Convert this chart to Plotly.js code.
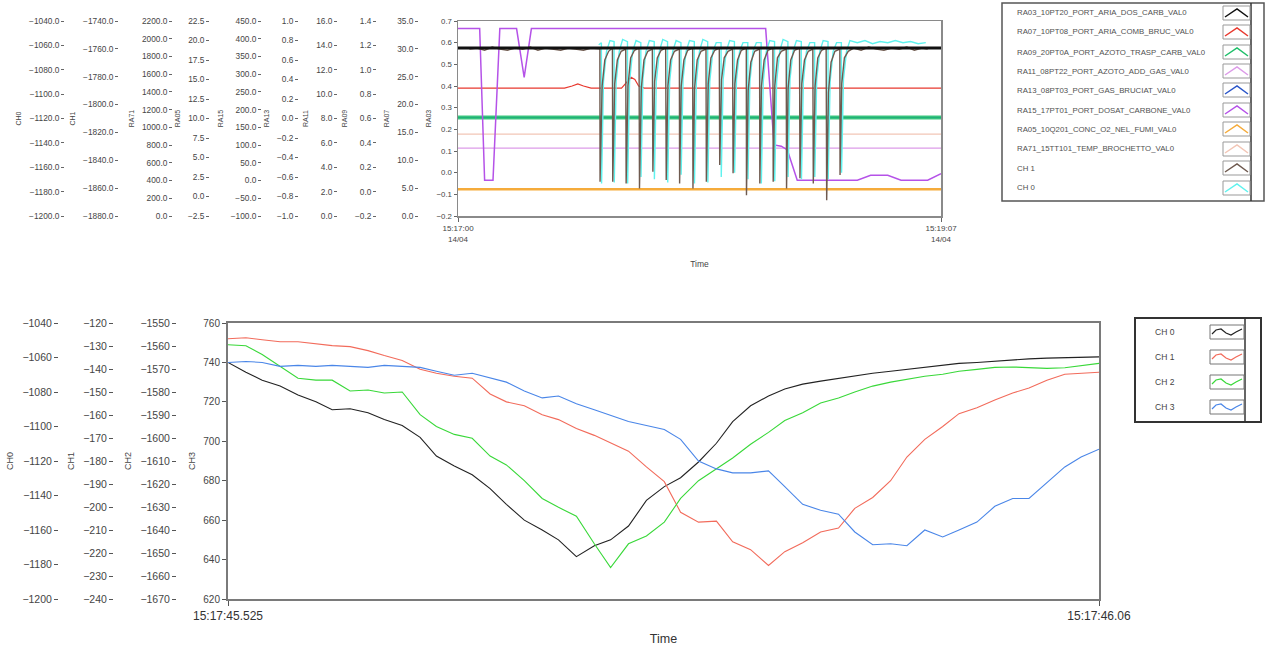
<!DOCTYPE html>
<html><head><meta charset="utf-8">
<script src="https://cdn.plot.ly/plotly-3.0.1.min.js"></script>
<style>html,body{margin:0;padding:0;background:#fff}#chart{width:1266px;height:651px}</style>
</head><body><div id="chart"></div>
<script>
// ---------------- TOP CHART DATA (x: seconds after 15:17:00) ----------------
const topSeriesNames = [
  'RA03_10PT20_PORT_ARIA_DOS_CARB_VAL0',
  'RA07_10PT08_PORT_ARIA_COMB_BRUC_VAL0',
  'RA09_20PT0A_PORT_AZOTO_TRASP_CARB_VAL0',
  'RA11_08PT22_PORT_AZOTO_ADD_GAS_VAL0',
  'RA13_08PT03_PORT_GAS_BRUCIAT_VAL0',
  'RA15_17PT01_PORT_DOSAT_CARBONE_VAL0',
  'RA05_10Q201_CONC_O2_NEL_FUMI_VAL0',
  'RA71_15TT101_TEMP_BROCHETTO_VAL0',
  'CH 1',
  'CH 0'
];
const topTickText = ['15:17:00<br>14/04', '15:19:07<br>14/04'];
const topTickVals = [0, 127];

const ra03T = [0, 127];
const ra03V = [0.575, 0.575];
const ra07T = [0, 28, 30, 31.5, 33, 35, 43, 44.5, 45.5, 46.5, 47.5, 49, 127];
const ra07V = [0.39, 0.39, 0.40, 0.41, 0.40, 0.39, 0.39, 0.42, 0.44, 0.43, 0.40, 0.39, 0.39];
const ra09T = [0, 127];
const ra09V = [0.255, 0.255];
const ra11T = [0, 127];
const ra11V = [0.113, 0.113];
const ra13T = [0, 127];
const ra13V = [0.255, 0.255];
const ra15T = [0, 5.7, 7.0, 9.2, 11.0, 15.4, 17.4, 19.3, 80.9, 83.1, 85.0, 86.6, 89.2, 105.0, 108.5, 113.0, 116.5, 123.5, 127];
const ra15V = [0.665, 0.665, -0.035, -0.035, 0.665, 0.665, 0.44, 0.665, 0.665, 0.128, 0.122, 0.105, -0.035, -0.035, -0.012, -0.012, -0.035, -0.035, -0.005];
const ra05T = [0, 127];
const ra05V = [-0.076, -0.076];
const ra71T = [0, 127];
const ra71V = [0.178, 0.178];

const ch1T = [3, 5, 7, 9, 11, 13, 15, 17, 19, 21, 23, 25, 27, 29, 31, 33, 35, 37.3,
  37.35, 37.9, 38.6, 39.6, 40.6,
  40.69, 41.2, 41.9, 42.9, 44.1,
  44.21, 44.7, 45.4, 46.4, 47.6,
  47.72, 48.2, 48.9, 49.9, 51.1,
  51.24, 51.7, 52.4, 53.4, 54.6,
  54.75, 55.2, 55.9, 56.9, 58.2,
  58.27, 58.7, 59.4, 60.4, 61.7,
  61.78, 62.2, 62.9, 63.9, 65.2,
  65.30, 65.8, 66.5, 67.5, 68.7,
  68.82, 69.3, 70.0, 71.0, 72.2,
  72.33, 72.8, 73.5, 74.5, 75.8,
  75.85, 76.3, 77.0, 78.0, 79.3,
  79.36, 79.8, 80.5, 81.5, 82.8,
  82.88, 83.3, 84.0, 85.0, 86.3,
  86.39, 86.8, 87.5, 88.5, 89.8,
  89.91, 90.4, 91.1, 92.1, 93.3,
  93.42, 93.9, 94.6, 95.6, 96.8,
  96.94, 97.4, 98.1, 99.1, 100.4,
  100.45, 100.9, 101.6, 102.6, 104, 106, 108, 110, 112, 114, 116, 118, 120, 122, 123.5];
const ch1V = [0.57, 0.575, 0.565, 0.58, 0.57, 0.565, 0.575, 0.57, 0.58, 0.565, 0.575, 0.57, 0.565, 0.575, 0.57, 0.565, 0.575, 0.572,
  -0.042, 0.40, 0.52, 0.56, 0.575,
  -0.042, 0.41, 0.52, 0.56, 0.57,
  -0.05, 0.40, 0.53, 0.565, 0.575,
  -0.073, 0.39, 0.52, 0.56, 0.57,
  0.004, 0.42, 0.53, 0.565, 0.575,
  -0.034, 0.40, 0.52, 0.56, 0.57,
  -0.05, 0.40, 0.52, 0.565, 0.575,
  -0.073, 0.39, 0.52, 0.56, 0.57,
  -0.042, 0.41, 0.53, 0.565, 0.575,
  0.035, 0.43, 0.53, 0.56, 0.57,
  -0.003, 0.41, 0.52, 0.565, 0.575,
  -0.104, 0.38, 0.51, 0.56, 0.57,
  -0.05, 0.40, 0.52, 0.565, 0.575,
  -0.042, 0.40, 0.53, 0.56, 0.57,
  -0.073, 0.39, 0.52, 0.565, 0.575,
  -0.026, 0.41, 0.52, 0.56, 0.57,
  -0.05, 0.40, 0.53, 0.565, 0.575,
  -0.127, 0.37, 0.51, 0.56, 0.57,
  -0.011, 0.41, 0.53, 0.56, 0.575, 0.565, 0.58, 0.57, 0.565, 0.575, 0.57, 0.58, 0.565, 0.575, 0.57];

const ch0T = [37.0,
  37.7, 37.75, 38.25, 39.05, 39.95,
  41.04, 41.09, 41.59, 42.39, 43.29,
  44.56, 44.61, 45.11, 45.91, 46.81,
  48.07, 48.12, 48.62, 49.42, 50.32,
  51.59, 51.64, 52.14, 52.94, 53.84,
  55.1, 55.15, 55.65, 56.45, 57.35,
  58.62, 58.67, 59.17, 59.97, 60.87,
  62.13, 62.18, 62.68, 63.48, 64.38,
  65.65, 65.7, 66.2, 67.0, 67.9,
  69.17, 69.22, 69.72, 70.52, 71.42,
  72.68, 72.73, 73.23, 74.03, 74.93,
  76.2, 76.25, 76.75, 77.55, 78.45,
  79.71, 79.76, 80.26, 81.06, 81.96,
  83.23, 83.28, 83.78, 84.58, 85.48,
  86.74, 86.79, 87.29, 88.09, 88.99,
  90.26, 90.31, 90.81, 91.61, 92.51,
  93.77, 93.82, 94.32, 95.12, 96.02,
  97.29, 97.34, 97.84, 98.64, 99.54,
  100.8, 100.85, 101.35, 102.15, 103.05,
  105, 107, 109, 111, 113, 115, 117, 119, 121, 123];
const ch0V = [0.59,
  0.60, -0.05, 0.42, 0.56, 0.61,
  0.605, -0.045, 0.42, 0.56, 0.615,
  0.605, -0.05, 0.42, 0.56, 0.61,
  0.60, -0.02, 0.43, 0.56, 0.61,
  0.605, -0.03, 0.42, 0.56, 0.615,
  0.605, -0.045, 0.42, 0.56, 0.61,
  0.60, -0.01, 0.43, 0.56, 0.61,
  0.605, -0.05, 0.42, 0.56, 0.615,
  0.605, -0.045, 0.42, 0.56, 0.60,
  0.60, -0.02, 0.43, 0.56, 0.61,
  0.605, 0.0, 0.43, 0.56, 0.60,
  0.60, -0.03, 0.42, 0.56, 0.60,
  0.60, -0.05, 0.42, 0.56, 0.61,
  0.605, -0.04, 0.42, 0.56, 0.615,
  0.605, -0.02, 0.43, 0.56, 0.61,
  0.605, -0.03, 0.42, 0.56, 0.60,
  0.60, -0.02, 0.43, 0.56, 0.61,
  0.605, -0.03, 0.42, 0.56, 0.60,
  0.60, 0.0, 0.43, 0.56, 0.61,
  0.60, 0.61, 0.595, 0.605, 0.60, 0.61, 0.60, 0.605, 0.595, 0.60];

// ---------------- BOTTOM CHART DATA (x: seconds of 15:17) ----------------
const bottomSeriesNames = ['CH 0', 'CH 1', 'CH 2', 'CH 3'];
const bottomTickVals = [45.525, 46.06];
const bottomTickText = ['15:17:45.525', '15:17:46.06'];
const bTime = [45.525, 45.536, 45.546, 45.557, 45.568, 45.579, 45.589, 45.600, 45.611, 45.621,
  45.632, 45.643, 45.653, 45.664, 45.675, 45.686, 45.696, 45.707, 45.718, 45.728,
  45.739, 45.750, 45.760, 45.771, 45.782, 45.793, 45.803, 45.814, 45.825, 45.835,
  45.846, 45.857, 45.867, 45.878, 45.889, 45.900, 45.910, 45.921, 45.932, 45.942,
  45.953, 45.964, 45.974, 45.985, 45.996, 46.007, 46.017, 46.028, 46.039, 46.049, 46.060];
const bCh0 = [740, 735, 731, 728, 723.5, 720, 716, 716.5, 714.5, 711,
  708, 702, 692.5, 687.5, 683, 676, 668, 660, 655, 650,
  641.5, 647, 650, 657, 670, 677, 681.5, 689.5, 699, 710,
  718, 723, 726.5, 729, 730.5, 732, 733, 734.5, 735.5, 736.5,
  737.5, 738.5, 739.5, 740, 740.7, 741.2, 741.8, 742.2, 742.5, 742.7, 742.8];
const bCh1 = [752, 752.5, 751.5, 750.5, 750.5, 749.5, 748.5, 748, 746, 743.5,
  741, 736.5, 734.5, 733, 732, 724, 720, 718, 713.5, 711,
  706.5, 703, 699, 695, 687, 679.5, 664, 659, 659.5, 649,
  645, 637, 644, 648.5, 654, 656, 666, 671.5, 680, 692,
  701, 707.5, 714, 717, 721, 724.5, 727, 731, 734, 734.6, 735];
const bCh2 = [749, 748.5, 744, 738, 732, 731, 731, 725.5, 726, 724.5,
  725, 713.5, 707.5, 703.5, 701.5, 692.5, 688, 680, 671, 666.5,
  662, 648, 636, 648, 652, 659, 671, 680, 686, 691.5,
  698.5, 704.5, 710.5, 714.5, 719.4, 722, 725, 728, 730, 731.5,
  733, 734, 735.5, 736.5, 737.5, 737.7, 737.3, 737, 737.3, 738.2, 739.5];
const bCh3 = [740, 740.5, 740, 738, 738.5, 738, 738.5, 738, 737.5, 738.5,
  738, 737.5, 735.5, 733.5, 734.5, 732, 730, 725.5, 722, 723,
  719, 716, 713, 710, 708, 706, 701, 690, 686, 684,
  684, 685, 677, 668, 665, 663, 654, 647.5, 648, 647,
  655, 651.5, 655, 659, 667, 671, 671, 679, 687, 692, 696];

// ---------------- STYLE / LAYOUT ----------------
const W = 1266, H = 651;
const fx = x => x / W;
const fy = y => 1 - y / H;
const FONT = 'Liberation Sans, Arial, sans-serif';
const TXT = '#454545';

const topColors = ['#111111', '#e8392f', '#1fbf6a', '#dc9be8', '#2b56c9', '#b552e8', '#f5ab3b', '#f2c6b6', '#6f5a4f', '#5ff2ee'];
const bottomColors = ['#222222', '#f26b5b', '#39d839', '#4a86e8'];

function ln(x, y, color, width, xa, ya) {
  return {x: x, y: y, type: 'scatter', mode: 'lines', line: {color: color, width: width},
    xaxis: xa, yaxis: ya, hoverinfo: 'skip', showlegend: false};
}
function emptyOn(xa, ya) {
  return {x: [], y: [], type: 'scatter', mode: 'lines', xaxis: xa, yaxis: ya, hoverinfo: 'skip', showlegend: false};
}

const traces = [
  ln(ra71T, ra71V, topColors[7], 1.2, 'x', 'y'),
  ln(ra11T, ra11V, topColors[3], 1.2, 'x', 'y'),
  ln(ra05T, ra05V, topColors[6], 2.5, 'x', 'y'),
  ln(ra13T, ra13V, topColors[4], 1.5, 'x', 'y'),
  Object.assign(ln(ra09T, ra09V, topColors[2], 4, 'x', 'y'), {opacity: 0.85}),
  ln(ra07T, ra07V, topColors[1], 1.2, 'x', 'y'),
  ln(ra15T, ra15V, topColors[5], 1.5, 'x', 'y'),
  ln(ch0T, ch0V, topColors[9], 1.4, 'x', 'y'),
  ln(ch1T, ch1V, topColors[8], 1.4, 'x', 'y'),
  ln(ra03T, ra03V, topColors[0], 3, 'x', 'y'),
  ln(bTime, bCh0, bottomColors[0], 1.1, 'x2', 'y11'),
  ln(bTime, bCh1, bottomColors[1], 1.1, 'x2', 'y11'),
  ln(bTime, bCh2, bottomColors[2], 1.1, 'x2', 'y11'),
  ln(bTime, bCh3, bottomColors[3], 1.1, 'x2', 'y11')
];

const layout = {
  width: W, height: H,
  margin: {l: 0, r: 0, t: 0, b: 0},
  paper_bgcolor: '#ffffff', plot_bgcolor: '#ffffff',
  showlegend: false,
  font: {family: FONT, color: TXT},
  xaxis: {
    domain: [fx(458), fx(941)], anchor: 'y', range: [0, 127],
    tickvals: topTickVals, ticktext: topTickText, ticks: 'outside', ticklen: 4, tickcolor: '#666',
    showline: true, mirror: true, linecolor: '#8a8a8a', linewidth: 1.5,
    showgrid: false, zeroline: false, tickfont: {size: 8, color: TXT},
    title: {text: 'Time', font: {size: 8.5, color: TXT}, standoff: 18}
  },
  yaxis: {
    domain: [fy(216), fy(21)], anchor: 'x', range: [-0.2, 0.7], tick0: -0.2, dtick: 0.1, tickformat: '.1f',
    ticks: 'outside', ticklen: 3, tickcolor: '#666', showline: true, mirror: true, linecolor: '#8a8a8a', linewidth: 1.5,
    showgrid: false, zeroline: false, tickfont: {size: 7.8, color: TXT},
    title: {text: 'RA03', font: {size: 7, color: TXT}, standoff: 4}
  },
  xaxis2: {
    domain: [fx(228), fx(1099)], anchor: 'y11', range: [45.525, 46.06],
    tickvals: bottomTickVals, ticktext: bottomTickText, ticks: 'outside', ticklen: 5, tickcolor: '#555',
    showline: true, mirror: true, linecolor: '#7a7a7a', linewidth: 2,
    showgrid: false, zeroline: false, tickfont: {size: 12, color: '#333'},
    title: {text: 'Time', font: {size: 12.5, color: '#333'}, standoff: 12}
  },
  yaxis11: {
    domain: [fy(599), fy(323)], anchor: 'x2', range: [620, 760], tick0: 620, dtick: 20,
    ticks: 'outside', ticklen: 4, tickcolor: '#555', showline: true, mirror: true, linecolor: '#7a7a7a', linewidth: 2,
    showgrid: false, zeroline: false, tickfont: {size: 10, color: TXT},
    title: {text: 'CH3', font: {size: 9, color: TXT}, standoff: 6}
  },
  shapes: [], annotations: []
};

// free axes, top chart
const topFree = [
  ['yaxis2', 'CH0', 64, [-1200, -1040], 20],
  ['yaxis3', 'CH1', 118, [-1880, -1740], 20],
  ['yaxis4', 'RA71', 172, [0, 2200], 200],
  ['yaxis5', 'RA05', 209, [-2.5, 22.5], 2.5],
  ['yaxis6', 'RA15', 261, [-100, 450], 50],
  ['yaxis7', 'RA13', 298, [-1, 1], 0.2],
  ['yaxis8', 'RA11', 337, [0, 16], 2],
  ['yaxis9', 'RA09', 376, [-0.2, 1.4], 0.2],
  ['yaxis10', 'RA07', 418, [0, 35], 5]
];
topFree.forEach(a => {
  layout[a[0]] = {
    overlaying: 'y', anchor: 'free', position: fx(a[2]), side: 'left',
    range: a[3], autorange: false, tick0: a[3][0], dtick: a[4], tickformat: '.1f',
    ticks: 'outside', ticklen: 3, tickcolor: '#666', showline: false, showgrid: false, zeroline: false,
    tickfont: {size: 8.3, color: TXT}, title: {text: a[1], font: {size: 7, color: TXT}, standoff: 5}
  };
  traces.push(emptyOn('x', 'y' + a[0].slice(5)));
});
// free axes, bottom chart
const botFree = [
  ['yaxis12', 'CH0', 58, [-1200, -1040], 20],
  ['yaxis13', 'CH1', 113, [-240, -120], 10],
  ['yaxis14', 'CH2', 176, [-1670, -1550], 10]
];
botFree.forEach(a => {
  layout[a[0]] = {
    overlaying: 'y11', anchor: 'free', position: fx(a[2]), side: 'left',
    range: a[3], autorange: false, tick0: a[3][0], dtick: a[4],
    ticks: 'outside', ticklen: 4, tickcolor: '#555', showline: false, showgrid: false, zeroline: false,
    tickfont: {size: 10.5, color: TXT}, title: {text: a[1], font: {size: 9, color: TXT}, standoff: 6}
  };
  traces.push(emptyOn('x2', 'y' + a[0].slice(5)));
});

// ---- custom legends (LabVIEW style, swatch on the right) ----
function rect(x0, y0, x1, y1, color, width, fill) {
  layout.shapes.push({type: 'rect', xref: 'paper', yref: 'paper', x0: fx(x0), x1: fx(x1), y0: fy(y1), y1: fy(y0),
    line: {color: color, width: width}, fillcolor: fill || 'rgba(0,0,0,0)', layer: 'above'});
}
function pathPx(pts, color, width) {
  const d = pts.map((p, i) => (i ? 'L' : 'M') + fx(p[0]) + ',' + fy(p[1])).join(' ');
  layout.shapes.push({type: 'path', xref: 'paper', yref: 'paper', path: d, line: {color: color, width: width}, layer: 'above'});
}
function text(x, y, s, size, color) {
  layout.annotations.push({xref: 'paper', yref: 'paper', x: fx(x), y: fy(y), text: s, showarrow: false,
    xanchor: 'left', yanchor: 'middle', font: {size: size, color: color, family: FONT}});
}

// top legend
rect(1002, 3, 1264, 201, '#555', 1.5, '#ffffff');
pathPx([[1251, 3], [1251, 201]], '#333', 1.5);
const topRows = [13, 32, 52, 71, 90, 110, 129, 149, 168, 188];
topSeriesNames.forEach((n, i) => {
  const yc = topRows[i];
  text(1015, yc, n, 7.8, '#505050');
  rect(1223, yc - 7, 1250, yc + 7, '#999', 1, '#ffffff');
  pathPx([[1225, yc + 4], [1237, yc - 4], [1248, yc + 4]], topColors[i], 1.5);
});

// bottom legend
rect(1135, 318, 1261, 422, '#333', 2, '#ffffff');
pathPx([[1245, 318], [1245, 422]], '#333', 1.5);
const botRows = [332, 357, 382, 407];
bottomSeriesNames.forEach((n, i) => {
  const yc = botRows[i];
  text(1153, yc, n, 8.5, '#444');
  rect(1210, yc - 7, 1244, yc + 7, '#777', 1, '#ffffff');
  pathPx([[1212, yc + 2], [1216, yc - 2], [1221, yc - 3], [1226, yc + 1], [1231, yc + 3], [1236, yc], [1242, yc - 3]], bottomColors[i], 1.2);
});

Plotly.newPlot('chart', traces, layout, {staticPlot: true, displayModeBar: false});
</script></body></html>
